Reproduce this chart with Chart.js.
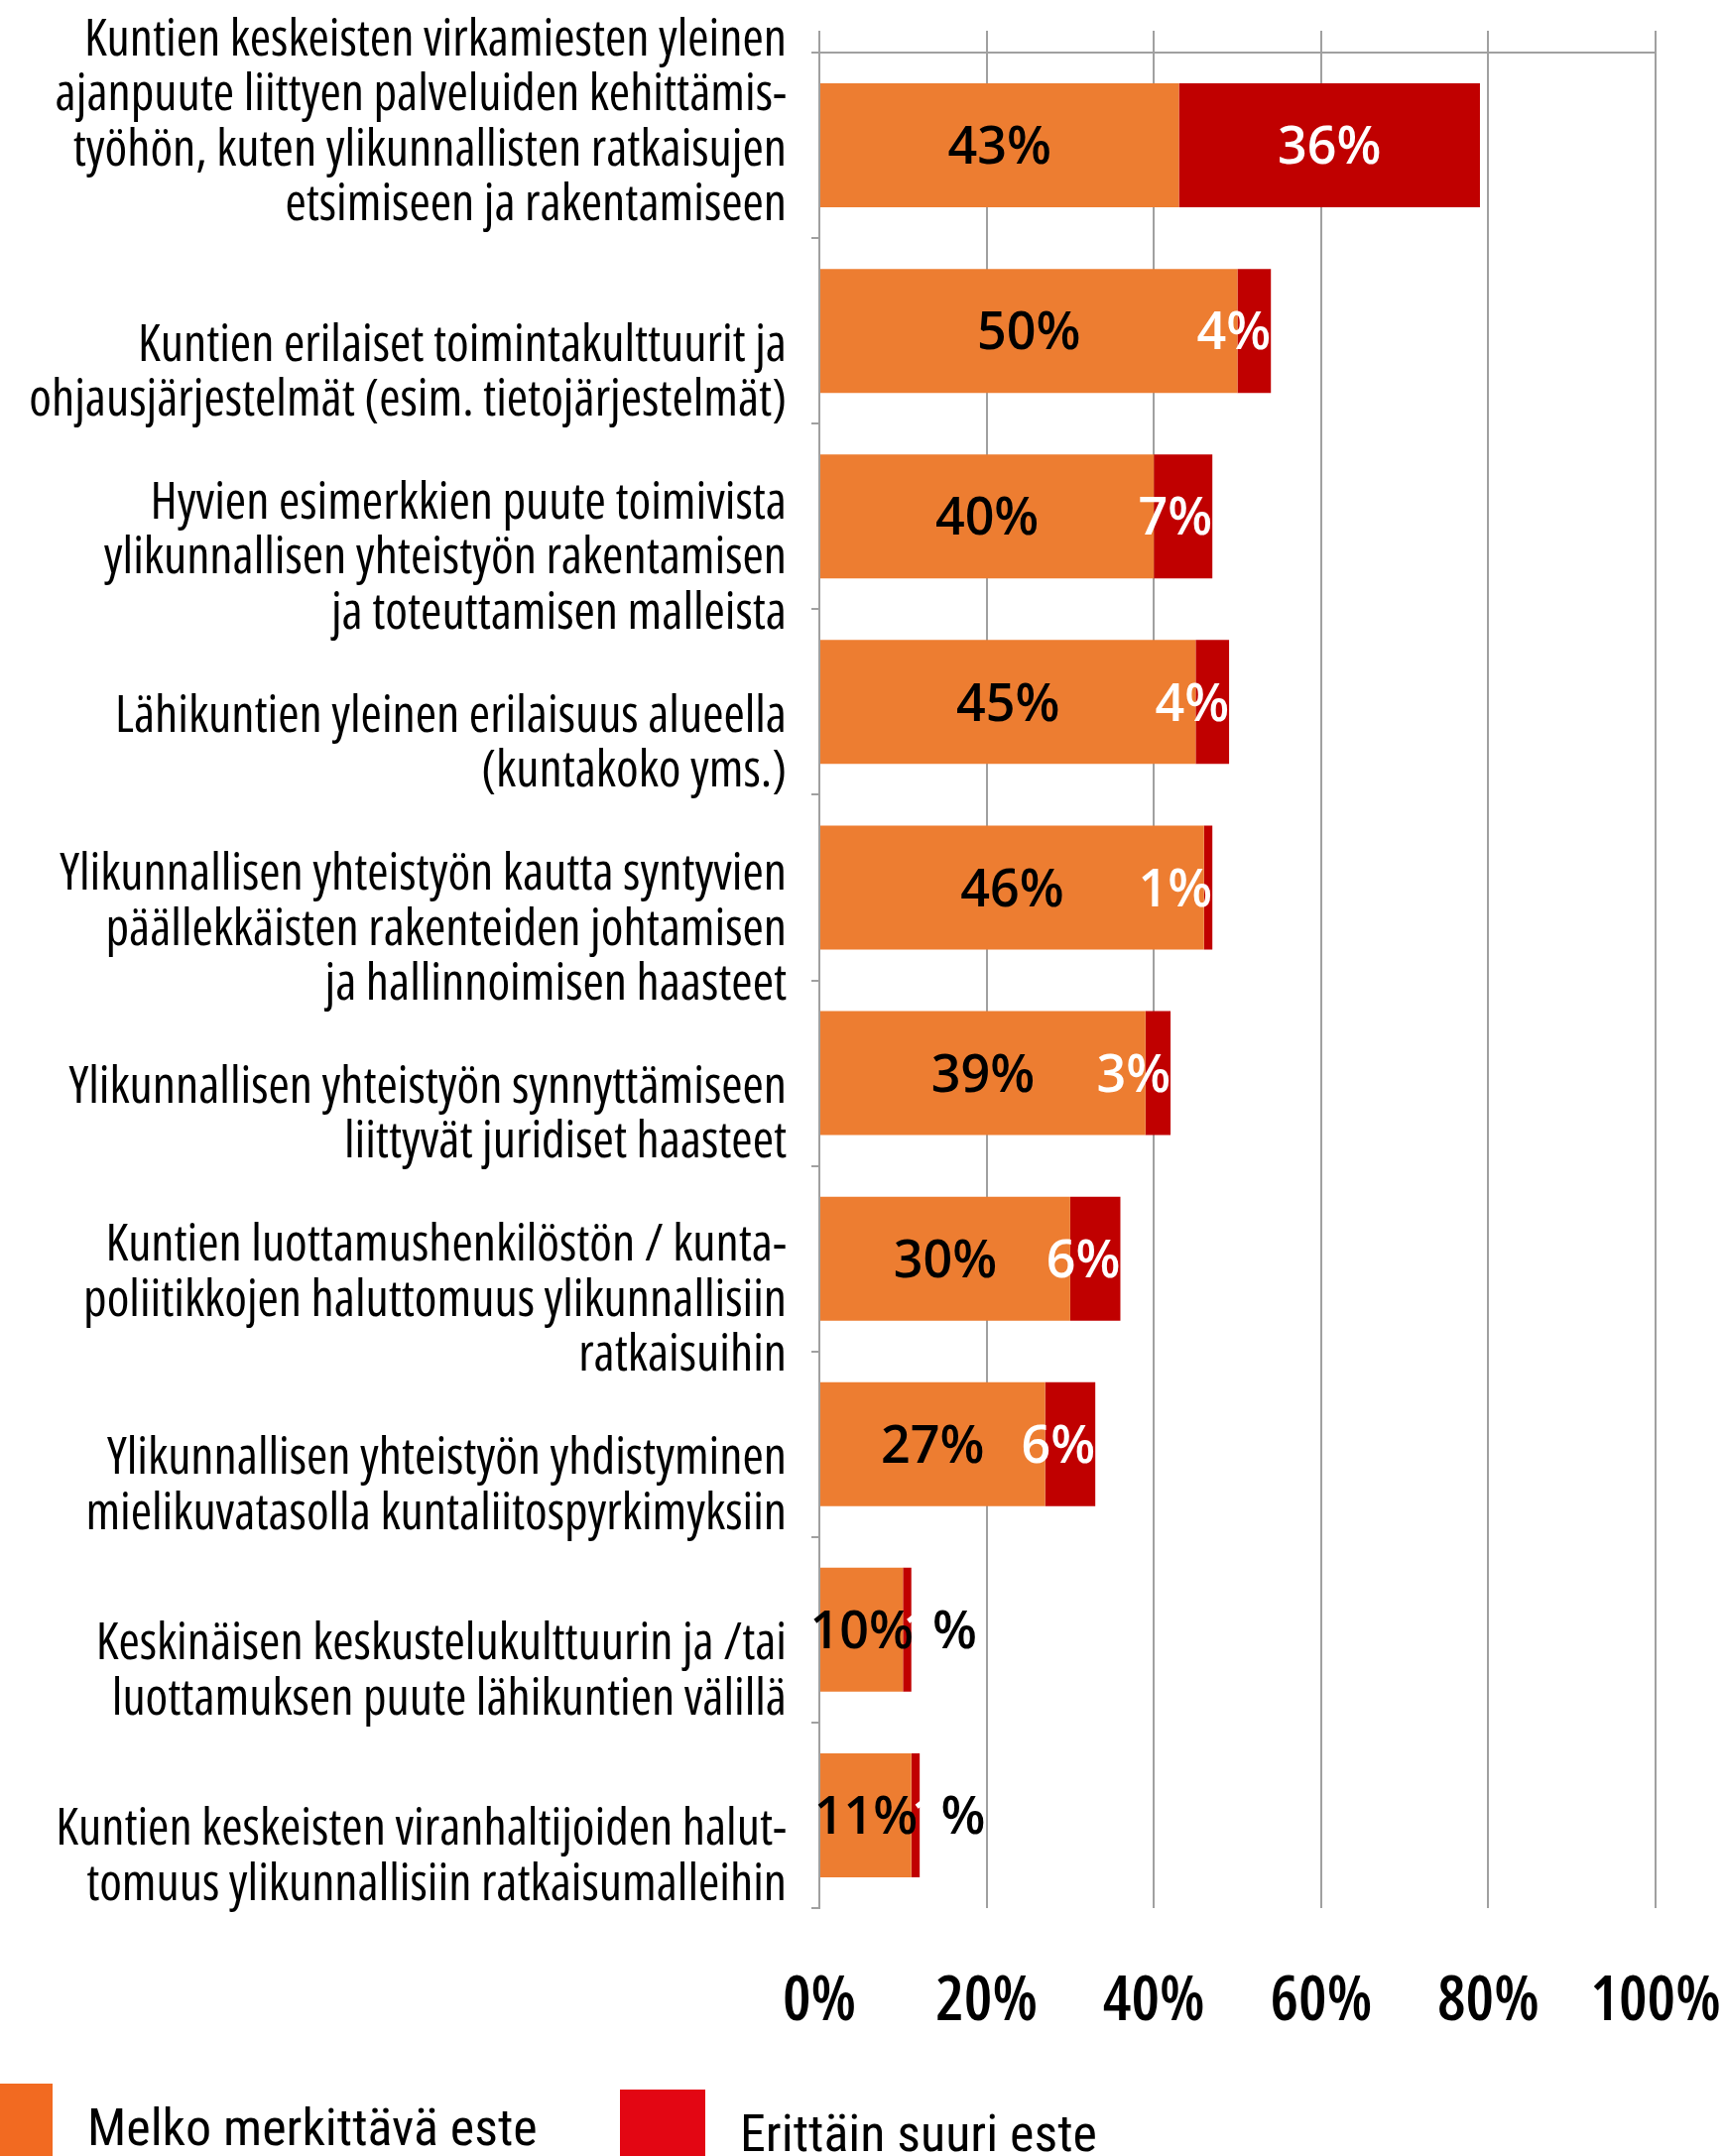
<!DOCTYPE html>
<html>
<head>
<meta charset="utf-8">
<script src="https://cdn.jsdelivr.net/npm/chart.js@4.4.1/dist/chart.umd.min.js"></script>
<style>
  body { margin: 0; background: #fff; }
  #wrap { position: relative; width: 1738px; height: 2174px; overflow: hidden; }
  #wrap canvas { position: absolute; left: 0; top: 0; }
  .legend-box { position: absolute; }
  .legend-text {
    position: absolute;
    font-family: Roboto, sans-serif;
    font-stretch: condensed;
    font-size: 52px;
    line-height: 52px;
    color: #000;
    white-space: nowrap;
  }
</style>
</head>
<body>
<div id="wrap">
  <canvas id="bars"></canvas>
</div>
<script>
// categories (multi-line labels as in the original)
const categories = [
  ["Kuntien keskeisten virkamiesten yleinen", "ajanpuute liittyen palveluiden kehittämis-", "työhön, kuten ylikunnallisten ratkaisujen", "etsimiseen ja rakentamiseen"],
  ["Kuntien erilaiset toimintakulttuurit ja", "ohjausjärjestelmät (esim. tietojärjestelmät)"],
  ["Hyvien esimerkkien puute toimivista", "ylikunnallisen yhteistyön rakentamisen", "ja toteuttamisen malleista"],
  ["Lähikuntien yleinen erilaisuus alueella", "(kuntakoko yms.)"],
  ["Ylikunnallisen yhteistyön kautta syntyvien", "päällekkäisten rakenteiden johtamisen", "ja hallinnoimisen haasteet"],
  ["Ylikunnallisen yhteistyön synnyttämiseen", "liittyvät juridiset haasteet"],
  ["Kuntien luottamushenkilöstön / kunta-", "poliitikkojen haluttomuus ylikunnallisiin", "ratkaisuihin"],
  ["Ylikunnallisen yhteistyön yhdistyminen", "mielikuvatasolla kuntaliitospyrkimyksiin"],
  ["Keskinäisen keskustelukulttuurin ja /tai", "luottamuksen puute lähikuntien välillä"],
  ["Kuntien keskeisten viranhaltijoiden halut-", "tomuus ylikunnallisiin ratkaisumalleihin"],
];

const seriesNames = ["Melko merkittävä este", "Erittäin suuri este"];
const melko = [43, 50, 40, 45, 46, 39, 30, 27, 10, 11];
const erittain = [36, 4, 7, 4, 1, 3, 6, 6, 1, 1];

const FONT = "'Open Sans', sans-serif";
const GRID = "#a0a0a0";
const barColors = ["#ED7D31", "#C00000"];
const legendColors = ["#F26A21", "#E30613"];

// percent labels inside the bars
const valueLabels = {
  id: "valueLabels",
  afterDatasetsDraw(chart) {
    const ctx = chart.ctx;
    const size = 52;
    const rise = size * 0.36;
    ctx.save();
    ctx.font = "600 " + size + "px " + FONT;
    ctx.textAlign = "left";
    ctx.textBaseline = "alphabetic";
    const first = chart.getDatasetMeta(0).data;
    const second = chart.getDatasetMeta(1).data;
    first.forEach((bar, i) => {
      const txt = melko[i] + "%";
      const w = ctx.measureText(txt).width;
      const left = (bar.x + bar.base) / 2 - w / 2;
      ctx.fillStyle = "#000";
      ctx.fillText(txt, left, bar.y + rise);

      const red = second[i];
      const num = String(erittain[i]);
      const rw = ctx.measureText(num + "%").width;
      let rl = (red.x + red.base) / 2 - rw / 2;
      if (rw > red.x - red.base) rl = red.x - rw;
      if (rl < left + w + 2) {
        // no room: the original starts it at the red sliver,
        // white digit (lost on the white) and a black percent sign
        rl = red.base;
        ctx.fillStyle = "#fff";
        ctx.fillText(num, rl, red.y + rise);
        ctx.fillStyle = "#000";
        ctx.fillText("%", rl + ctx.measureText(num).width, red.y + rise);
      } else {
        ctx.fillStyle = "#fff";
        ctx.fillText(num + "%", rl, red.y + rise);
      }
    });
    ctx.restore();
  },
};

// vertical gridlines poke out a little above the plot, like in the original
const gridTop = {
  id: "gridTop",
  beforeDatasetsDraw(chart) {
    const { ctx, chartArea, scales } = chart;
    ctx.save();
    ctx.strokeStyle = GRID;
    ctx.lineWidth = 2;
    scales.x.ticks.forEach((t) => {
      const px = Math.round(scales.x.getPixelForValue(t.value));
      ctx.beginPath();
      ctx.moveTo(px, chartArea.top - 22);
      ctx.lineTo(px, chartArea.top);
      ctx.stroke();
    });
    ctx.restore();
  },
};

// the first (4-line) category label sits about one line higher in the original
const firstLabelUp = {
  id: "firstLabelUp",
  beforeDraw(chart) {
    const items = chart.scales.y.getLabelItems();
    if (items.length && !items[0].moved) {
      items[0].options.translation[1] -= 65;
      items[0].moved = true;
    }
  },
};

const ctx = document.getElementById("bars");
window.myBars = new Chart(ctx, {
  type: "bar",
  data: {
    labels: categories,
    datasets: [
      { label: seriesNames[0], data: melko, backgroundColor: barColors[0] },
      { label: seriesNames[1], data: erittain, backgroundColor: barColors[1] },
    ],
  },
  options: {
    indexAxis: "y",
    responsive: true,
    maintainAspectRatio: false,
    animation: false,
    categoryPercentage: 1,
    barPercentage: 0.668,
    layout: { padding: { left: 0, right: 69, top: 53, bottom: 120 } },
    plugins: {
      legend: { display: false },
      tooltip: { enabled: false },
    },
    scales: {
      x: {
        stacked: true,
        min: 0,
        max: 100,
        ticks: {
          stepSize: 20,
          autoSkip: false,
          callback: (v) => v + "%",
          padding: 56,
          color: "#000",
          maxRotation: 0,
          font: { family: FONT, size: 64, weight: "600 condensed", lineHeight: 1.2 },
        },
        grid: { color: GRID, lineWidth: 2, drawTicks: false },
        border: { display: false },
        afterFit: (s) => {
          s.height = 130;
          s.paddingLeft = 0;
          s.paddingRight = 0;
        },
      },
      y: {
        stacked: true,
        grid: {
          offset: true,
          color: (c) => (c.index === 0 ? GRID : "transparent"),
          lineWidth: 2,
          drawTicks: true,
          tickLength: 8,
          tickColor: GRID,
          tickWidth: 2,
        },
        border: { display: true, color: GRID, width: 2 },
        ticks: {
          autoSkip: false,
          padding: 25,
          labelOffset: 43,
          color: "#000",
          font: { family: FONT, size: 51.5, weight: "condensed", lineHeight: 1.078 },
        },
        afterFit: (s) => {
          s.width = 826;
          s.paddingTop = 0;
          s.paddingBottom = 0;
        },
      },
    },
  },
  plugins: [gridTop, firstLabelUp, valueLabels],
});

// legend, built by hand so the boxes can sit like in the original
const wrap = document.getElementById("wrap");
const legendBoxes = [
  { left: 0, top: 2101, width: 53 },
  { left: 625, top: 2107, width: 86 },
];
const legendTexts = [
  { left: 88, top: 2120 },
  { left: 746, top: 2126 },
];
seriesNames.forEach((name, i) => {
  const box = document.createElement("div");
  box.className = "legend-box";
  box.style.left = legendBoxes[i].left + "px";
  box.style.top = legendBoxes[i].top + "px";
  box.style.width = legendBoxes[i].width + "px";
  box.style.height = "100px";
  box.style.background = legendColors[i];
  wrap.appendChild(box);
  const txt = document.createElement("div");
  txt.className = "legend-text";
  txt.style.left = legendTexts[i].left + "px";
  txt.style.top = legendTexts[i].top + "px";
  txt.textContent = name;
  wrap.appendChild(txt);
});
</script>
</body>
</html>
